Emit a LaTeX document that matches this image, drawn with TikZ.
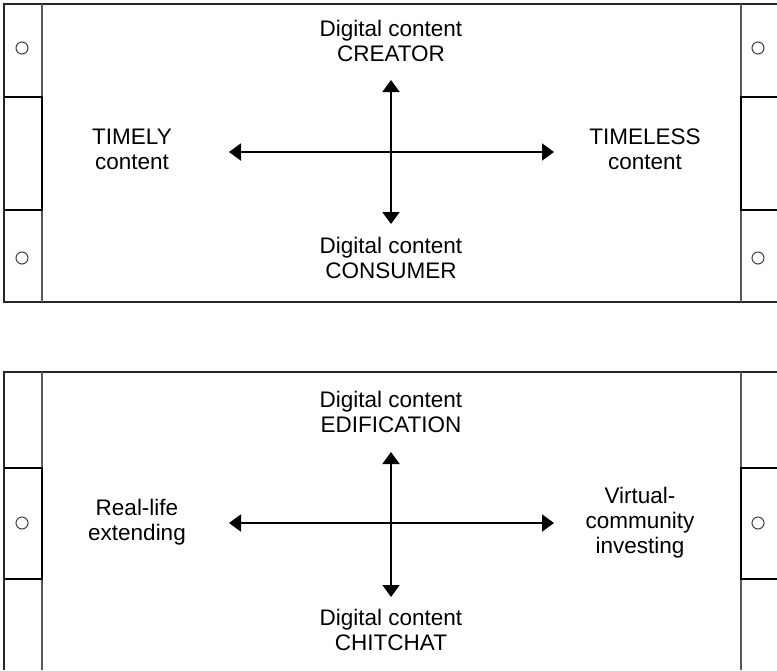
\documentclass[tikz,border=0pt]{standalone}
\usepackage{fontspec}
\setmainfont{Liberation Sans}
\usetikzlibrary{arrows.meta}
\tikzset{
  frame/.style={line width=1.2pt, draw=black!85},
  divider/.style={line width=1.4pt, draw=black!65},
  joint/.style={line width=1.8pt, draw=black},
  hole/.style={line width=1pt, draw=black!75},
  axis/.style={line width=2pt, draw=black, {Triangle[width=17pt,length=12pt]}-{Triangle[width=17pt,length=12pt]}},
  label/.style={align=center, inner sep=0pt, font=\fontsize{22.5}{25}\selectfont}
}
\newcommand{\ls}{\strut}
\begin{document}
\begin{tikzpicture}[x=1pt,y=-1pt]
\useasboundingbox (0,0) rectangle (777,670);
% ---------- top panel ----------
\draw[frame] (777,4) -- (4,4) -- (4,302) -- (777,302);
\draw[divider] (42,4) -- (42,302);
\draw[divider] (741,4) -- (741,302);
\draw[joint] (4,97) -- (42,97) -- (42,210) -- (4,210);
\draw[joint] (777,97) -- (741,97) -- (741,210) -- (777,210);
\draw[hole] (22,48) circle (6);
\draw[hole] (22,258) circle (6);
\draw[hole] (758,48) circle (6);
\draw[hole] (758,258) circle (6);
\coordinate (t-l) at (229,152);
\coordinate (t-r) at (554,152);
\coordinate (t-u) at (391,80);
\coordinate (t-d) at (391,224);
\draw[axis] (t-l) -- (t-r);
\draw[axis] (t-u) -- (t-d);
\node[label] (creator) at (391,44) {\ls Digital content\\\ls CREATOR};
\node[label] (timely) at (132,152) {\ls TIMELY\\\ls content};
\node[label] (timeless) at (645,152) {\ls TIMELESS\\\ls content};
\node[label] (consumer) at (391,261) {\ls Digital content\\\ls CONSUMER};
% ---------- bottom panel ----------
\draw[frame] (777,372) -- (4,372) -- (4,670);
\draw[divider] (42,372) -- (42,670);
\draw[divider] (741,372) -- (741,670);
\draw[joint] (4,468) -- (42,468) -- (42,579) -- (4,579);
\draw[joint] (777,468) -- (741,468) -- (741,579) -- (777,579);
\draw[hole] (22,523) circle (6);
\draw[hole] (758,523) circle (6);
\coordinate (b-l) at (229,523);
\coordinate (b-r) at (554,523);
\coordinate (b-u) at (391,452);
\coordinate (b-d) at (391,597);
\draw[axis] (b-l) -- (b-r);
\draw[axis] (b-u) -- (b-d);
\node[label] (edification) at (391,415) {\ls Digital content\\\ls EDIFICATION};
\node[label] (reallife) at (137,523) {\ls Real-life\\\ls extending};
\node[label] (virtual) at (640,523) {\ls Virtual-\\\ls community\\\ls investing};
\node[label] (chitchat) at (391,633) {\ls Digital content\\\ls CHITCHAT};
\end{tikzpicture}
\end{document}
